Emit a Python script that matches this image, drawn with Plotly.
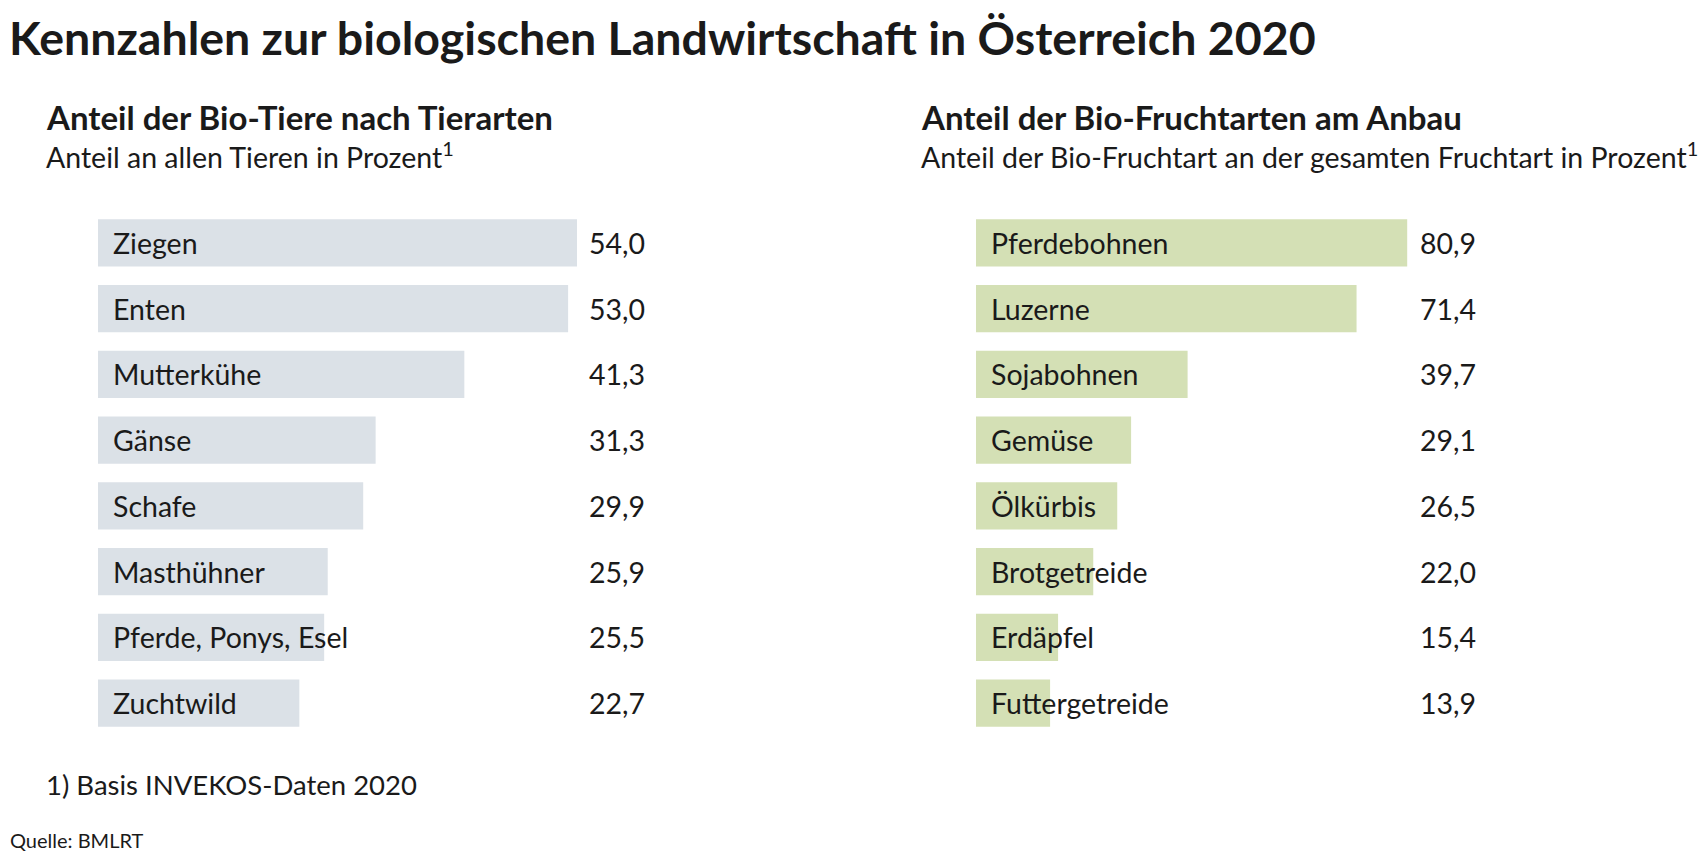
import plotly.graph_objects as go

# data
tiere = ["Ziegen", "Enten", "Mutterkühe", "Gänse", "Schafe", "Masthühner",
         "Pferde, Ponys, Esel", "Zuchtwild"]
tiere_anteil = [54.0, 53.0, 41.3, 31.3, 29.9, 25.9, 25.5, 22.7]

fruchtarten = ["Pferdebohnen", "Luzerne", "Sojabohnen", "Gemüse", "Ölkürbis",
               "Brotgetreide", "Erdäpfel", "Futtergetreide"]
frucht_anteil = [80.9, 71.4, 39.7, 29.1, 26.5, 22.0, 15.4, 13.9]

# the page puts the plot 8px in from the top-left corner
OFF = 8
W, H = 1708 - OFF, 854 - OFF
FONT = "Lato"
INK = "#1a1a1a"


def fmt(v):
    return f"{v:.1f}".replace(".", ",")


def px(x):
    # x position in the 1708 wide screenshot -> paper fraction
    return (x - OFF) / W


def py(y):
    return 1 - (y - OFF) / H


fig = go.Figure()
fig.add_trace(go.Bar(x=tiere_anteil, y=tiere, orientation="h",
                     marker=dict(color="#dbe1e7", line=dict(width=0)),
                     xaxis="x", yaxis="y", hoverinfo="x+y"))
fig.add_trace(go.Bar(x=frucht_anteil, y=fruchtarten, orientation="h",
                     marker=dict(color="#d4e0b5", line=dict(width=0)),
                     xaxis="x2", yaxis="y2", hoverinfo="x+y"))

ann = []
# category names inside the bars, value column at the right
for cats, vals, xr, yr, vx in [(tiere, tiere_anteil, "x", "y", 647),
                               (fruchtarten, frucht_anteil, "x2", "y2", 1478)]:
    for cat, v in zip(cats, vals):
        ann.append(dict(x=0, xref=xr, y=cat, yref=yr, text=cat, xanchor="left",
                        xshift=13, showarrow=False,
                        font=dict(family=FONT, size=28.5, color=INK)))
        ann.append(dict(x=px(vx), xref="paper", y=cat, yref=yr, text=fmt(v),
                        xanchor="right", showarrow=False,
                        font=dict(family=FONT, size=28.5, color=INK)))

# title hangs from the top edge
ann.append(dict(x=0, y=1, xref="paper", yref="paper", xanchor="left", yanchor="top",
                text="<b>Kennzahlen zur biologischen Landwirtschaft in Österreich 2020</b>",
                showarrow=False, borderpad=0,
                font=dict(family=FONT, size=46.5, color=INK)))

texts = [
    (44, 117, "<b>Anteil der Bio-Tiere nach Tierarten</b>", 33),
    (44, 155, "Anteil an allen Tieren in Prozent<sup>1</sup>", 28.5),
    (919, 117, "<b>Anteil der Bio-Fruchtarten am Anbau</b>", 33),
    (919, 155, "Anteil der Bio-Fruchtart an der gesamten Fruchtart in Prozent<sup>1</sup>", 28.5),
    (44, 784, "1) Basis INVEKOS-Daten 2020", 27.5),
    (OFF, 840, "Quelle: BMLRT", 20),
]
for x, y, t, s in texts:
    ann.append(dict(x=px(x), y=py(y), xref="paper", yref="paper", text=t,
                    xanchor="left", yanchor="middle", showarrow=False,
                    font=dict(family=FONT, size=s, color=INK)))

ydom = [py(736), py(210)]
fig.update_layout(
    width=W, height=H,
    margin=dict(l=0, r=0, t=0, b=0),
    paper_bgcolor="white", plot_bgcolor="white",
    showlegend=False,
    bargap=0.285,
    xaxis=dict(domain=[px(98), px(98 + 8.87 * 60)], range=[0, 60], visible=False,
               fixedrange=True),
    yaxis=dict(domain=ydom, autorange="reversed", visible=False, fixedrange=True),
    xaxis2=dict(domain=[px(976), px(976 + 5.33 * 90)], range=[0, 90], visible=False,
                fixedrange=True),
    yaxis2=dict(domain=ydom, autorange="reversed", visible=False, fixedrange=True,
                anchor="x2"),
    annotations=ann,
)
fig.write_html("out.html")
